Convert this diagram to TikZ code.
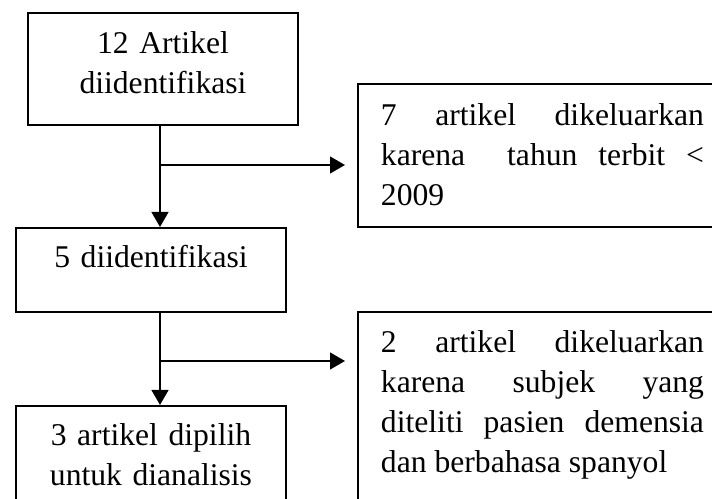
\documentclass[tikz,border=0pt]{standalone}
\usepackage{fontspec}
\setmainfont{Liberation Serif}
\usetikzlibrary{arrows.meta,positioning}
\tolerance=10000
\begin{document}
\begin{tikzpicture}[
  x=1cm,
  y=1cm,
  flowbox/.style={draw=black, line width=1.4pt, inner sep=0pt, text width=6.75cm, align=center, anchor=north west},
  notebox/.style={draw=black, line width=1.4pt, inner xsep=0.575cm, inner ysep=0pt, text width=8.075cm, align=justify, anchor=north west},
  flowarrow/.style={line width=1.4pt, -{Triangle[length=0.375cm, width=0.42cm]}},
  every node/.style={font=\fontsize{22.5}{28.45}\selectfont}
]
\useasboundingbox (0,0) rectangle (17.8,12.475);
\clip (0,0) rectangle (17.8,12.475);
\node[flowbox, text height=1.025cm, text depth=1.775cm] (found) at (0.675,12.175) {12 Artikel\\diidentifikasi};
\node[flowbox, text height=1.0cm, text depth=1.1cm] (screened) at (0.375,6.8) {5 diidentifikasi};
\node[flowbox, text height=1.0cm, text depth=2.0cm] (chosen) at (0.375,2.35) {3 artikel dipilih\\untuk dianalisis};
\node[notebox, text height=1.05cm, text depth=2.525cm] (outyear) at (8.925,10.4) {7 artikel dikeluarkan\linebreak karena\ \ tahun terbit <\linebreak 2009};
\node[notebox, text height=1.025cm, text depth=4.3cm] (outsubj) at (8.925,4.7) {2 artikel dikeluarkan\linebreak karena subjek yang\linebreak diteliti pasien demensia\linebreak dan berbahasa spanyol};
\coordinate (fork1) at (4.0,8.35);
\coordinate (fork2) at (4.0,3.45);
\draw[flowarrow] (found.south -| fork1) -- (screened.north -| fork1);
\draw[flowarrow, shorten >=0.3cm] (fork1) -- (fork1 -| outyear.west);
\draw[flowarrow] (screened.south -| fork2) -- (chosen.north -| fork2);
\draw[flowarrow, shorten >=0.3cm] (fork2) -- (fork2 -| outsubj.west);
\end{tikzpicture}
\end{document}
